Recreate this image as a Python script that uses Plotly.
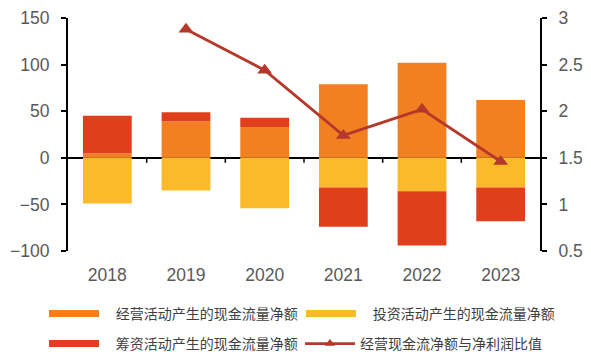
import plotly.graph_objects as go

years = ["2018", "2019", "2020", "2021", "2022", "2023"]
operating = [5, 39, 33, 79, 102, 62]
investing = [-49, -35, -54, -32, -36, -32]
financing = [40, 10, 10, -42, -58, -36]
ratio_years = ["2019", "2020", "2021", "2022", "2023"]
ratio = [2.88, 2.44, 1.74, 2.02, 1.46]

names = ["经营活动产生的现金流量净额", "投资活动产生的现金流量净额",
         "筹资活动产生的现金流量净额", "经营现金流净额与净利润比值"]
c_op, c_inv, c_fin, c_line = "#F28021", "#FBBA2A", "#DF3F1A", "#B5392B"

FONT = "Liberation Sans, Arial, Noto Sans CJK SC"
NB = "\u00a0"
fig = go.Figure()
for vals, col in [(operating, c_op), (investing, c_inv), (financing, c_fin)]:
    fig.add_trace(go.Bar(x=years, y=vals, marker=dict(color=col, line=dict(width=0)),
                         width=0.62, showlegend=False))
fig.add_trace(go.Scatter(x=ratio_years, y=ratio, yaxis="y2", mode="lines+markers",
                         line=dict(color=c_line, width=2.8),
                         marker=dict(symbol="triangle-up", size=13, color=c_line),
                         showlegend=False))

# legend proxies, one legend each so that they can be placed in a 2x2 grid
leg_ids = ["legend", "legend2", "legend3", "legend4"]
for i, (nm, col) in enumerate(zip(names, [c_op, c_inv, c_fin, c_line])):
    if i < 3:
        fig.add_trace(go.Scatter(x=[None], y=[None], mode="lines", name=NB * 3 + nm,
                                 line=dict(color=col, width=7), legend=leg_ids[i]))
    else:
        fig.add_trace(go.Scatter(x=[None], y=[None], mode="lines+markers", name=nm,
                                 line=dict(color=col, width=2.8),
                                 marker=dict(symbol="triangle-up", size=9, color=col),
                                 legend=leg_ids[i], yaxis="y2"))

# x-axis ticks at category boundaries along the zero line
for k in range(1, len(years)):
    fig.add_shape(type="line", xref="x", yref="y", x0=k - 0.5, x1=k - 0.5,
                  ysizemode="pixel", yanchor=0, y0=0, y1=-5,
                  line=dict(color="black", width=1.5))

legend_common = dict(orientation="h", font=dict(family=FONT, size=14, color="#404040"),
                     itemwidth=50, bgcolor="rgba(0,0,0,0)", xanchor="left",
                     yanchor="middle", xref="paper", yref="paper")
lx = [-0.0508, 0.4936, -0.0508, 0.4915]
ly = [-0.2704, -0.2704, -0.399, -0.399]

TICKF = dict(size=17.5, color="#595959")
fig.update_layout(
    width=591, height=352,
    margin=dict(l=68, r=51, t=18, b=101, autoexpand=False),
    plot_bgcolor="white", paper_bgcolor="white",
    barmode="relative",
    font=dict(family=FONT, color="#595959"),
    xaxis=dict(type="category", showline=False, ticks="", showgrid=False,
               tickfont=TICKF, ticklabelstandoff=11),
    yaxis=dict(range=[-100, 150], tickvals=[-100, -50, 0, 50, 100, 150],
               showgrid=False, showline=True, linecolor="black", linewidth=2,
               ticks="outside", ticklen=5, tickwidth=2, tickcolor="black",
               zeroline=True, zerolinecolor="black", zerolinewidth=1.5,
               tickfont=TICKF, ticklabelstandoff=8),
    yaxis2=dict(range=[0.5, 3], tickvals=[0.5, 1, 1.5, 2, 2.5, 3], overlaying="y",
                side="right", showgrid=False, showline=True, linecolor="black",
                linewidth=2, ticks="outside", ticklen=5, tickwidth=2, tickcolor="black",
                zeroline=False, tickfont=TICKF, ticklabelstandoff=8),
)
for lid, x, y in zip(leg_ids, lx, ly):
    fig.update_layout({lid: dict(x=x, y=y, **legend_common)})

fig.write_html("out.html")
